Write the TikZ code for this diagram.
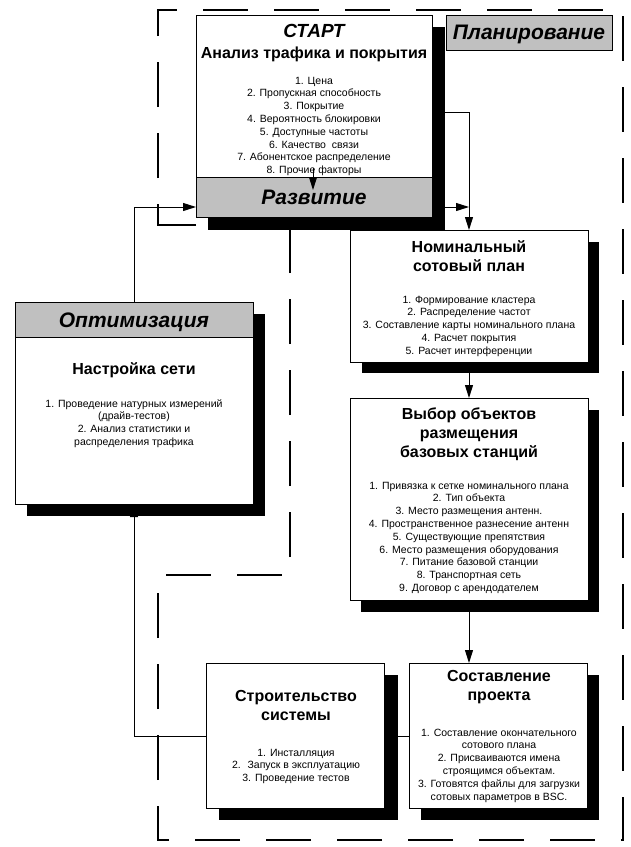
\documentclass[tikz,border=0pt]{standalone}
\usepackage{fontspec}
\setmainfont{Liberation Sans}
\usetikzlibrary{arrows.meta}
\definecolor{bandgrey}{HTML}{C0C0C0}
\begin{document}
\begin{tikzpicture}[x=1pt,y=-1pt,
  shadowbox/.style={fill=black, draw=none, inner sep=0, outer sep=0, anchor=north west},
  box/.style={draw=black, line width=1pt, fill=white, inner sep=0, outer sep=0, anchor=north west},
  band/.style={box, fill=bandgrey},
  conn/.style={draw=black, line width=1pt},
  arr/.style={conn, -{Triangle[length=13pt,width=8pt]}},
  ttl/.style={font=\fontsize{16}{19}\selectfont\bfseries, align=center, anchor=base, inner sep=0},
  lst/.style={font=\fontsize{10.5}{12.8}\selectfont, align=center, anchor=base, inner sep=0},
  hdr/.style={font=\fontsize{21}{24}\selectfont\bfseries\itshape, anchor=base, inner sep=0},
  frame/.style={line width=2.8pt, dash pattern=on 45pt off 26pt}
]
\useasboundingbox (0,0) rectangle (631,847);

% dashed planning frame
\draw[frame] (182,225) -- (158,225) -- (158,10) -- (623,10) -- (623,840) -- (158,840) -- (158,575) -- (290,575) -- (290,225) -- cycle;

% box geometry (nodes)
\node[box, minimum width=236, minimum height=202] (start) at (196,15) {};
\node[box, minimum width=238, minimum height=202] (opt) at (15,302) {};
\node[box, minimum width=238, minimum height=132] (nom) at (350,230) {};
\node[box, minimum width=238, minimum height=202] (vyb) at (350,398) {};
\node[box, minimum width=178, minimum height=145] (str) at (206,663) {};
\node[box, minimum width=178, minimum height=145] (sost) at (409,663) {};

% helper points
\coordinate (j1) at (469,112);
\coordinate (j2) at (469,207);
\coordinate (j3) at (134,736);
\coordinate (j4) at (134,207);
\coordinate (a1) at (313,168);
\coordinate (a2) at (313,190);

% connectors
\draw[arr] (start.east |- j1) -- (j1) -- (nom.north);
\draw[arr] (start.east |- j2) -- (j2);
\draw[arr] (nom.south) -- (vyb.north);
\draw[arr] (vyb.south) -- (vyb.south |- sost.north);
\draw[arr] (sost.west |- j3) -- (str.east |- j3);
\draw[arr] (str.west |- j3) -- (j3) -- (opt.south);
\draw[arr] (opt.north) -- (j4) -- (start.west |- j4);

% shadows
\node[shadowbox, minimum width=237, minimum height=203] (startsh) at (208,27) {};
\node[shadowbox, minimum width=238, minimum height=202] (optsh) at (27,314) {};
\node[shadowbox, minimum width=237, minimum height=131] (nomsh) at (362,242) {};
\node[shadowbox, minimum width=238, minimum height=202] (vybsh) at (361,410) {};
\node[shadowbox, minimum width=179, minimum height=145] (strsh) at (219,675) {};
\node[shadowbox, minimum width=178, minimum height=145] (sostsh) at (421,675) {};

% boxes again on top of shadows
\node[box, minimum width=236, minimum height=202] (startb) at (196,15) {};
\node[band, minimum width=236, minimum height=40] (dev) at (196,177) {};
\node[band, minimum width=166, minimum height=35] (plan) at (446,15) {};
\node[box, minimum width=238, minimum height=202] (optb) at (15,302) {};
\node[band, minimum width=238, minimum height=35] (optband) at (15,302) {};
\node[box, minimum width=238, minimum height=132] (nomb) at (350,230) {};
\node[box, minimum width=238, minimum height=202] (vybb) at (350,398) {};
\node[box, minimum width=178, minimum height=145] (strb) at (206,663) {};
\node[box, minimum width=178, minimum height=145] (sostb) at (409,663) {};

% texts (anchor=base of a multi-line node is the baseline of its last line)
\node[hdr, font=\fontsize{19}{22}\selectfont\bfseries\itshape] (tstart) at (314,37) {СТАРТ};
\node[ttl] (tanal) at (314,58) {Анализ трафика и покрытия};
\node[lst] (lstart) at (314,173.6) {1. Цена\\2. Пропускная способность\\3. Покрытие\\4. Вероятность блокировки\\5. Доступные частоты\\6. Качество~ связи\\7. Абонентское распределение\\8. Прочие факторы};
\node[hdr] (tdev) at (314,204) {Развитие};
\node[hdr] (tplan) at (529,39) {Планирование};

\node[hdr] (topt) at (134,327) {Оптимизация};
\node[ttl] (tnastr) at (134,374) {Настройка сети};
\node[lst] (lopt) at (134,445.4) {1. Проведение натурных измерений\\(драйв-тестов)\\2. Анализ статистики и\\распределения трафика};

\node[ttl] (tnom) at (469,271) {Номинальный\\сотовый план};
\node[lst] (lnom) at (469,354.2) {1. Формирование кластера\\2. Распределение частот\\3. Составление карты номинального плана\\4. Расчет покрытия\\5. Расчет интерференции};

\node[ttl] (tvyb) at (469,457) {Выбор объектов\\размещения\\базовых станций};
\node[lst] (lvyb) at (469,591.4) {1. Привязка к сетке номинального плана\\2. Тип объекта\\3. Место размещения антенн.\\4. Пространственное разнесение антенн\\5. Существующие препятствия\\6. Место размещения оборудования\\7. Питание базовой станции\\8. Транспортная сеть\\9. Договор с арендодателем};

\node[ttl] (tstr) at (296,720) {Строительство\\системы};
\node[lst] (lstr) at (296,781.6) {1. Инсталляция\\2.~ Запуск в эксплуатацию\\3. Проведение тестов};

\node[ttl] (tsost) at (499,700) {Составление\\проекта};
\node[lst] (lsost) at (499,800) {1. Составление окончательного\\сотового плана\\2. Присваиваются имена\\строящимся объектам.\\3. Готовятся файлы для загрузки\\сотовых параметров в BSC.};

% inner arrow into the band
\draw[arr] (a1) -- (a2);
\end{tikzpicture}
\end{document}
